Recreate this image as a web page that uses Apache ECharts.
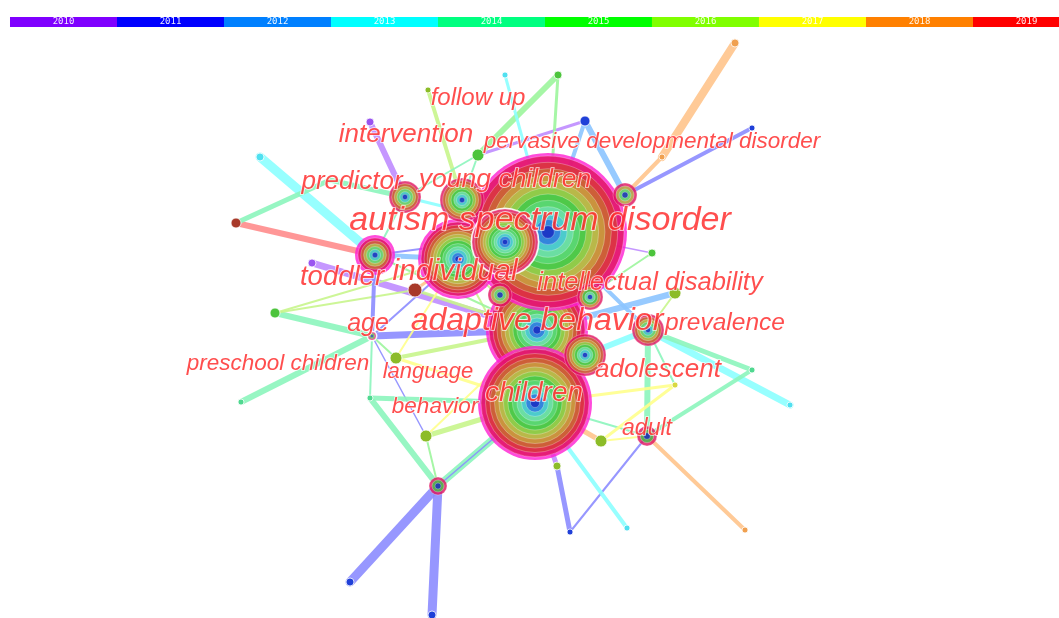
<!DOCTYPE html>
<html>
<head>
<meta charset="utf-8">
<script src="https://cdn.jsdelivr.net/npm/echarts@6/dist/echarts.min.js"></script>
<style>
    html, body {margin: 0; padding: 0; background: #fff;}
    #main {width: 1059px; height: 618px;}
</style>
</head>
<body>
<div id="main"></div>
<script>
    // time slices shown in the colour strip
    const years = ['2010', '2011', '2012', '2013', '2014', '2015', '2016', '2017', '2018', '2019'];

    // keyword nodes (layout coordinates, node size, first year index, kind)
    const nodeIds = ['adb', 'chi', 'asd', 'ind', 'aut', 'yc', 'pred', 'tod', 'ado', 'prev', 'pdd', 'adult', 'n486', 'n500', 'n590',
        'fu', 'b585', 'g558', 'c505', 'l428', 'p370', 'c260', 'r236', 'p312', 'g275', 'age', 'c241', 'lang', 'n370', 'beh',
        'b415', 'g652', 'g675', 'o662', 'o735', 'b752', 'g752', 'c790', 'y675', 'y601', 'g557', 'b570', 'c627', 'o745',
        'p350', 'p432', 'x330'];
    const nodeX = [537, 535, 548, 458, 505, 462, 405, 375, 585, 648, 625, 647, 438, 500, 590,
        478, 585, 558, 505, 428, 370, 260, 236, 312, 275, 372, 241, 396, 370, 426,
        415, 652, 675, 662, 735, 752, 752, 790, 675, 601, 557, 570, 627, 745,
        350, 432, 330];
    const nodeY = [330, 403, 232, 259, 242, 200, 197, 255, 355, 330, 195, 436, 486, 295, 297,
        155, 121, 75, 75, 90, 122, 157, 223, 263, 313, 336, 402, 358, 398, 436,
        290, 253, 293, 157, 43, 128, 370, 405, 385, 441, 466, 532, 528, 530,
        582, 615, 180];
    const nodeSize = [48, 54, 76, 37, 33, 22, 16, 17, 21, 16, 12, 10, 9, 12, 13,
        6, 5, 4, 3, 3, 4, 4, 5, 4, 5, 4, 3, 6, 3, 6,
        7, 4, 6, 3, 4, 3, 3, 3, 3, 6, 4, 3, 3, 3,
        4, 4, 0];
    const nodeYear = [0, 0, 0, 0, 0, 0, 0, 0, 0, 0, 0, 0, 0, 0, 0,
        5, 1, 5, 3, 6, 0, 3, 9, 0, 5, 4, 4, 6, 4, 6,
        9, 5, 6, 8, 8, 1, 4, 3, 7, 6, 6, 1, 3, 8,
        1, 1, 4];
    const nodeKind = ['hub', 'hub', 'hub', 'hub', 'white', 'ring', 'ring', 'hub', 'ring', 'ring', 'ring', 'ring', 'ring', 'ring', 'ring',
        'dot', 'dot', 'dot', 'dot', 'dot', 'dot', 'dot', 'dot', 'dot', 'dot', 'white', 'dot', 'dot', 'dot', 'dot',
        'dot', 'dot', 'dot', 'dot', 'dot', 'dot', 'dot', 'dot', 'dot', 'dot', 'dot', 'dot', 'dot', 'dot',
        'dot', 'dot', 'none'];

    // co-occurrence links: source, target, year index, strength
    const linkSource = ['o735', 'o662', 'pdd', 'pdd', 'pdd', 'b585', 'b585', 'g558', 'g558', 'c505', 'l428', 'p370', 'c260', 'r236', 'r236', 'x330',
        'p312', 'g275', 'g275', 'g275', 'c241', 'age', 'age', 'age', 'age', 'age', 'lang', 'lang', 'n370', 'n370', 'beh', 'n486', 'n486',
        'n486', 'n486', 'n486', 'b570', 'b570', 'c627', 'o745', 'adult', 'adult', 'y601', 'y601', 'y601', 'c790', 'g752', 'g752', 'prev',
        'prev', 'g675', 'g652', 'g652', 'ado', 'g557', 'b415', 'tod', 'pred', 'yc', 'fu', 'fu', 'tod', 'ind', 'b415', 'lang', 'age',
        'beh', 'yc', 'pred', 'ind', 'tod', 'n500', 'n590', 'g675', 'prev', 'chi'];
    const linkTarget = ['o662', 'pdd', 'b752', 'b585', 'asd', 'fu', 'asd', 'fu', 'asd', 'asd', 'yc', 'pred', 'tod', 'tod', 'x330', 'pred',
        'adb', 'age', 'b415', 'ind', 'age', 'tod', 'adb', 'lang', 'beh', 'n370', 'adb', 'chi', 'n486', 'chi', 'chi', 'chi', 'beh',
        'p350', 'p432', 'chi', 'g557', 'adult', 'chi', 'adult', 'prev', 'chi', 'chi', 'adult', 'y675', 'prev', 'prev', 'adult', 'ado',
        'asd', 'adb', 'asd', 'adb', 'adb', 'chi', 'ind', 'ind', 'asd', 'asd', 'yc', 'pred', 'asd', 'adb', 'adb', 'ind', 'ind',
        'adb', 'ind', 'tod', 'chi', 'adb', 'adb', 'adb', 'prev', 'y675', 'y675'];
    const linkYear = [8, 8, 1, 2, 2, 0, 2, 5, 5, 3, 6, 0, 3, 9, 4, 4,
        0, 4, 6, 6, 4, 1, 1, 5, 1, 4, 6, 7, 4, 4, 6, 4, 5,
        1, 1, 1, 1, 1, 3, 8, 4, 4, 8, 7, 7, 3, 4, 4, 3,
        2, 2, 0, 5, 3, 0, 8, 2, 3, 3, 4, 4, 1, 6, 6, 7, 1,
        7, 3, 4, 6, 5, 2, 4, 6, 4, 7];
    const linkWeight = [8, 4, 4, 6, 5, 3, 4, 6, 3, 3, 4, 6, 9, 6, 5, 5,
        7, 6, 2, 2, 6, 4, 7, 2, 1.5, 2, 4, 3, 6, 5, 5, 7, 2,
        9, 9, 1.5, 5, 2, 4, 4, 6, 2, 5, 2, 3, 7, 5, 4, 6,
        4, 6, 1.5, 2, 4, 5, 3, 5, 3, 3, 2, 2, 2, 2, 3, 2, 2,
        2, 2, 2, 2, 2, 3, 3, 2, 2, 3];

    // keyword labels
    const labelText = ['follow up', 'intervention', 'pervasive developmental disorder', 'predictor', 'young children',
        'autism spectrum disorder', 'toddler', 'individual', 'intellectual disability', 'age', 'adaptive behavior',
        'prevalence', 'preschool children', 'language', 'adolescent', 'children', 'behavior', 'adult'];
    const labelX = [478, 406, 652, 352, 505, 540, 342, 455, 650, 368, 537, 725, 278, 428, 658, 534, 435, 647];
    const labelY = [98, 135, 142, 182, 180, 221, 277, 272, 283, 324, 321, 323, 364, 372, 370, 393, 407, 429];
    const labelSize = [24, 26, 22.5, 26, 26.5, 34, 27.5, 30, 25.5, 25, 32, 24.5, 22.5, 22, 26, 28, 22.5, 23];

    const yearColors = ['#7f00ff', '#0000ff', '#0080ff', '#00ffff', '#00ff80', '#00ff00', '#80ff00', '#ffff00', '#ff8000', '#ff0000'];
    const linkColors = ['#bf8cff', '#8c8cff', '#8cc4ff', '#8cffff', '#8cf5bc', '#9cf59c', '#c8f58c', '#ffff8c', '#ffc48c', '#ff8c8c'];
    const dotColors = ['#9a55f0', '#2040d8', '#2f72d8', '#50e0f0', '#50d890', '#4cc43c', '#8cbc28', '#d8d840', '#f0a050', '#a83a2a'];
    const ringPalette = ['#e0125e', '#d93a3a', '#c96a34', '#c9a040', '#b4c24c', '#86d04a', '#3ec84a',
        '#5bd97a', '#6fe0b0', '#45c6d6', '#2d74e0', '#1626c0'];

    let graphNodes = nodeIds.map((id, i) => ({
        name: id,
        value: [nodeX[i], nodeY[i]],
        symbolSize: nodeKind[i] === 'dot' ? nodeSize[i] * 2 : 0,
        itemStyle: {color: dotColors[nodeYear[i]], borderColor: 'rgba(255,255,255,0.8)', borderWidth: 1}
    }));
    let graphLinks = linkSource.map((s, i) => ({
        source: s, target: linkTarget[i],
        lineStyle: {color: linkColors[linkYear[i]], width: linkWeight[i], opacity: 0.9, cap: 'round'}
    }));

    // tree rings for the bigger keywords, outer ring first
    let ringData = [];
    nodeIds.forEach((id, i) => {
        let kind = nodeKind[i];
        if (kind === 'dot' || kind === 'none') return;
        let r = nodeSize[i];
        let n = Math.max(3, Math.min(ringPalette.length, Math.floor(r / 2.6)));
        let cols = [];
        for (let k = 0; k < n; k++) {
            cols.push(ringPalette[Math.round(k * (ringPalette.length - 1) / (n - 1))]);
        }
        if (kind === 'hub') {
            ringData.push({value: [nodeX[i], nodeY[i]], symbolSize: r * 2 + 6, itemStyle: {color: '#ff1ed2', borderWidth: 0}});
        }
        if (kind === 'white') {
            ringData.push({value: [nodeX[i], nodeY[i]], symbolSize: r * 2 + 3, itemStyle: {color: '#ffffff', opacity: 0.9, borderWidth: 0}});
        }
        cols.forEach((c, k) => {
            ringData.push({
                value: [nodeX[i], nodeY[i]],
                symbolSize: r * 2 * (1 - k / n),
                itemStyle: {color: c, borderColor: 'rgba(255,255,255,0.35)', borderWidth: 1}
            });
        });
    });

    let chart = echarts.init(document.getElementById('main'));
    chart.setOption({
        animation: false,
        backgroundColor: '#ffffff',
        grid: [
            {left: 0, right: 0, top: 0, bottom: 0},
            {left: 10, right: 0, top: 17, height: 10}
        ],
        xAxis: [
            {type: 'value', min: 0, max: 1059, show: false, gridIndex: 0},
            // strip runs past the right edge, so only ~9.8 slices fit in the window
            {type: 'value', min: 0, max: 9.804, show: false, gridIndex: 1}
        ],
        yAxis: [
            {type: 'value', min: 0, max: 618, inverse: true, show: false, gridIndex: 0},
            {type: 'value', min: 0, max: 1, show: false, gridIndex: 1}
        ],
        series: [
            {
                type: 'bar', xAxisIndex: 1, yAxisIndex: 1, barWidth: 107,
                data: years.map((y, i) => ({name: y, value: [i + 0.5, 1], itemStyle: {color: yearColors[i]}})),
                label: {
                    show: true, position: 'inside', formatter: '{b}', color: 'rgba(255,255,255,0.92)',
                    fontFamily: 'DejaVu Sans Mono', fontSize: 9
                },
                silent: true
            },
            {
                type: 'graph', coordinateSystem: 'cartesian2d', xAxisIndex: 0, yAxisIndex: 0,
                data: graphNodes, links: graphLinks, z: 2, silent: true,
                label: {show: false}
            },
            {
                type: 'scatter', xAxisIndex: 0, yAxisIndex: 0, z: 3, silent: true,
                data: ringData
            },
            {
                type: 'scatter', xAxisIndex: 0, yAxisIndex: 0, z: 4, silent: true, symbolSize: 0,
                data: labelText.map((t, i) => ({
                    name: t, value: [labelX[i], labelY[i]],
                    label: {fontSize: labelSize[i]}
                })),
                label: {
                    show: true, position: 'inside', formatter: '{b}', color: '#ff2222',
                    fontStyle: 'italic', fontFamily: 'Liberation Sans',
                    textBorderColor: '#ffffff', textBorderWidth: 1.6
                }
            }
        ]
    });
</script>
</body>
</html>
